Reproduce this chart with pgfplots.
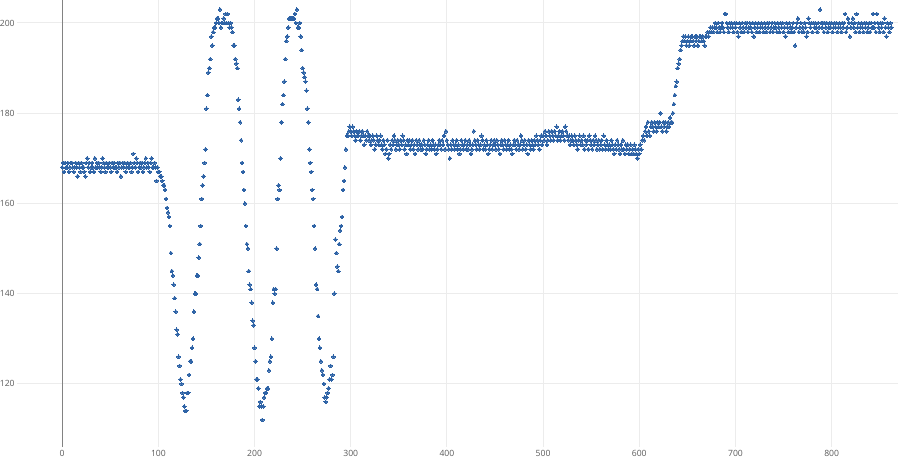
\documentclass[border=0pt]{standalone}
\usepackage{pgfplots}
\usepackage{pgfplotstable}
\pgfplotsset{compat=1.18}
\usepackage{fontspec}
\setmainfont{Open Sans}
\definecolor{pt}{RGB}{46,99,166}
\definecolor{grd}{RGB}{236,236,236}
\definecolor{zl}{RGB}{130,130,130}
\definecolor{lbl}{RGB}{90,90,90}
\pgfplotstableread[header=false, row sep=\\]{
168\\169\\167\\169\\168\\168\\169\\167\\168\\169\\
169\\168\\167\\168\\169\\168\\166\\169\\168\\167\\
169\\168\\168\\167\\166\\169\\170\\168\\169\\167\\
168\\169\\168\\167\\170\\168\\169\\168\\169\\168\\
167\\168\\170\\169\\168\\167\\169\\168\\168\\169\\
168\\167\\169\\168\\169\\168\\168\\167\\169\\168\\
169\\166\\168\\169\\168\\169\\167\\168\\169\\168\\
168\\169\\167\\168\\171\\169\\168\\170\\169\\167\\
168\\169\\168\\169\\167\\168\\169\\170\\168\\169\\
168\\167\\169\\170\\168\\168\\169\\168\\165\\168\\
167\\167\\166\\166\\165\\164\\164\\163\\161\\159\\
158\\157\\155\\149\\145\\144\\142\\139\\136\\132\\
131\\126\\124\\121\\120\\118\\117\\115\\114\\114\\
118\\118\\122\\125\\125\\128\\130\\136\\140\\140\\
144\\144\\148\\151\\155\\161\\164\\166\\169\\172\\
181\\184\\189\\190\\192\\197\\195\\198\\199\\199\\
200\\201\\201\\200\\203\\199\\200\\200\\201\\200\\
202\\200\\202\\200\\199\\200\\199\\198\\195\\195\\
192\\191\\190\\183\\181\\178\\174\\169\\167\\163\\
160\\155\\151\\150\\145\\142\\141\\138\\134\\133\\
128\\125\\121\\121\\119\\115\\116\\115\\112\\115\\
117\\118\\118\\119\\119\\123\\125\\126\\130\\138\\
141\\140\\141\\150\\161\\164\\163\\170\\178\\182\\
184\\187\\192\\196\\197\\199\\201\\201\\201\\201\\
201\\201\\202\\200\\203\\199\\199\\200\\197\\194\\
190\\189\\188\\187\\185\\181\\178\\172\\169\\167\\
163\\161\\155\\150\\142\\141\\135\\130\\128\\125\\
123\\122\\120\\117\\116\\117\\118\\119\\121\\124\\
121\\122\\126\\140\\152\\149\\146\\145\\151\\154\\
155\\157\\163\\165\\168\\172\\175\\175\\176\\177\\
176\\175\\177\\176\\175\\174\\176\\175\\175\\176\\
174\\175\\176\\175\\173\\175\\174\\176\\175\\174\\
175\\173\\174\\175\\174\\172\\173\\175\\174\\173\\
174\\175\\173\\172\\174\\173\\171\\172\\174\\170\\
171\\173\\172\\174\\173\\175\\174\\172\\173\\174\\
173\\172\\174\\173\\175\\174\\172\\173\\171\\174\\
173\\174\\172\\173\\174\\172\\173\\171\\174\\173\\
172\\174\\173\\172\\173\\172\\174\\173\\171\\172\\
173\\174\\172\\173\\172\\174\\173\\172\\173\\171\\
172\\173\\174\\173\\172\\174\\173\\175\\172\\176\\
174\\173\\172\\170\\173\\172\\174\\173\\172\\173\\
174\\172\\173\\171\\172\\174\\173\\172\\173\\174\\
172\\173\\172\\174\\173\\171\\172\\173\\176\\174\\
173\\172\\174\\173\\172\\173\\175\\174\\172\\173\\
172\\174\\173\\171\\172\\173\\174\\172\\173\\174\\
173\\172\\174\\173\\172\\171\\173\\174\\173\\172\\
174\\173\\172\\173\\174\\172\\173\\172\\171\\173\\
174\\173\\172\\174\\173\\172\\173\\175\\174\\172\\
173\\174\\172\\173\\171\\174\\173\\172\\174\\173\\
172\\174\\173\\175\\174\\173\\172\\174\\175\\173\\
175\\174\\176\\175\\173\\174\\176\\175\\174\\176\\
175\\174\\176\\175\\177\\174\\175\\176\\174\\175\\
176\\175\\174\\177\\176\\175\\174\\175\\173\\174\\
175\\174\\173\\175\\174\\173\\172\\174\\175\\173\\
174\\173\\175\\172\\174\\173\\174\\172\\175\\174\\
173\\172\\174\\173\\175\\174\\172\\173\\174\\172\\
173\\174\\172\\175\\173\\172\\174\\173\\172\\173\\
172\\174\\173\\172\\171\\173\\172\\174\\173\\172\\
171\\173\\172\\174\\172\\171\\173\\172\\173\\171\\
172\\173\\171\\172\\171\\173\\172\\171\\170\\172\\
171\\173\\172\\174\\175\\174\\176\\177\\175\\178\\
176\\175\\177\\178\\177\\176\\178\\177\\176\\178\\
177\\178\\180\\177\\176\\178\\177\\178\\176\\177\\
178\\177\\179\\178\\178\\180\\182\\184\\186\\187\\
190\\191\\192\\194\\195\\196\\197\\196\\197\\195\\
196\\197\\195\\196\\197\\197\\196\\195\\197\\196\\
197\\195\\196\\197\\197\\196\\197\\196\\195\\197\\
197\\198\\197\\198\\199\\198\\199\\198\\199\\200\\
199\\198\\200\\199\\198\\199\\200\\199\\198\\202\\
202\\200\\199\\198\\200\\199\\200\\199\\198\\200\\
199\\200\\198\\197\\200\\199\\198\\200\\199\\198\\
200\\199\\200\\198\\199\\200\\199\\198\\200\\197\\
199\\200\\198\\199\\200\\198\\199\\200\\199\\198\\
200\\199\\198\\200\\199\\200\\198\\199\\200\\198\\
199\\200\\199\\198\\200\\199\\198\\200\\199\\200\\
198\\199\\197\\200\\199\\198\\200\\199\\198\\199\\
200\\198\\195\\199\\200\\201\\198\\199\\200\\198\\
199\\198\\200\\199\\197\\198\\201\\200\\199\\200\\
198\\200\\199\\200\\199\\198\\200\\199\\203\\200\\
199\\200\\198\\200\\199\\200\\198\\199\\200\\199\\
200\\198\\199\\200\\199\\200\\198\\199\\200\\199\\
198\\200\\199\\200\\202\\198\\199\\201\\200\\197\\
199\\200\\201\\199\\200\\198\\202\\199\\200\\198\\
199\\200\\199\\198\\200\\199\\200\\198\\199\\200\\
198\\200\\199\\202\\199\\200\\198\\202\\200\\199\\
198\\200\\199\\200\\198\\201\\199\\197\\200\\199\\
198\\200\\199\\
}\datatable
\begin{document}
\begin{tikzpicture}
\path[use as bounding box] (0,0) rectangle (450pt,231.5pt);
\begin{axis}[
  at={(8.5pt,8pt)}, anchor=south west,
  scale only axis, width=440.5pt, height=223.5pt,
  xmin=-47, xmax=869, ymin=106, ymax=205.1,
  xtick={0,100,...,800}, ytick={120,140,...,200},
  axis line style={draw=none},
  tick style={draw=none}, major tick length=0pt,
  grid=major, major grid style={color=grd, line width=0.5pt},
  /pgf/number format/assume math mode=true,
  tick label style={font=\fontsize{4.3}{5}\selectfont, text=lbl},
  xticklabel style={inner sep=0pt, anchor=north, yshift=-1.2pt},
  yticklabel style={inner sep=0pt, anchor=east, xshift=-1pt},
  clip=false,
]
\draw[color=zl, line width=0.6pt] (axis cs:0,106) -- (axis cs:0,205.1);
\addplot[only marks, mark=*, mark size=0.9pt, color=pt, mark options={fill=pt, draw=pt, line width=0pt}]
  table[x expr=\coordindex, y index=0] {\datatable};
\end{axis}
\end{tikzpicture}
\end{document}
